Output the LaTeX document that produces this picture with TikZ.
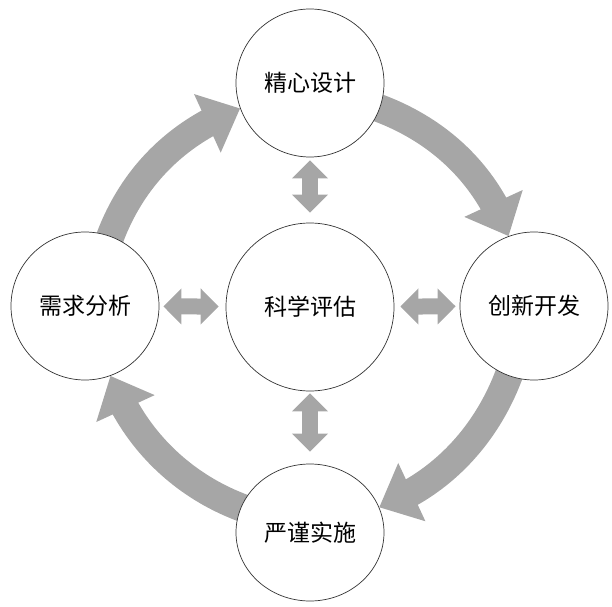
\documentclass[tikz,border=0pt]{standalone}
\usepackage{fontspec}
\newfontfamily\cjk{Noto Sans CJK SC}
\usetikzlibrary{arrows.meta,bending,backgrounds,shapes.geometric}
\definecolor{flowgray}{RGB}{166,166,166}
\begin{document}
\begin{tikzpicture}[x=1pt,y=1pt,
    stage/.style={circle,draw=black!80,line width=0.7pt,fill=white,minimum size=148pt,inner sep=0pt,font=\cjk\fontsize{23}{28}\selectfont},
    cycle/.style={draw=flowgray,line width=28pt,-{Triangle[width=62pt,length=36pt]},distance=64pt,shorten <=-4pt},
    link/.style={draw=flowgray,line width=16pt,{Triangle[width=35pt,length=18pt]}-{Triangle[width=35pt,length=18pt]}}]
    \useasboundingbox (0,0) rectangle (612,606);
    %stages
    \node[stage] (design) at (310,523) {精心设计};
    \node[stage] (analysis) at (85,300) {需求分析};
    \node[stage,minimum size=168pt] (assess) at (310,299) {科学评估};
    \node[stage] (develop) at (534,300) {创新开发};
    \node[stage,ellipse,minimum height=137pt] (implement) at (310,73.5) {严谨实施};
    %cycle
    \begin{scope}[on background layer]
        \draw[cycle] (analysis) to[out=70,in=200] (design);
        \draw[cycle] (design) to[out=-20,in=110] (develop);
        \draw[cycle] (develop) to[out=-110,in=20] (implement);
        \draw[cycle] (implement) to[out=160,in=-70] (analysis);
    \end{scope}
    %links
    \draw[link,shorten <=3pt,shorten >=10pt] (design) -- (assess);
    \draw[link,shorten <=2pt,shorten >=12pt] (assess) -- (implement);
    \draw[link,shorten <=4pt,shorten >=7pt] (analysis) -- (assess);
    \draw[link,shorten <=6pt,shorten >=4pt] (assess) -- (develop);
\end{tikzpicture}
\end{document}
